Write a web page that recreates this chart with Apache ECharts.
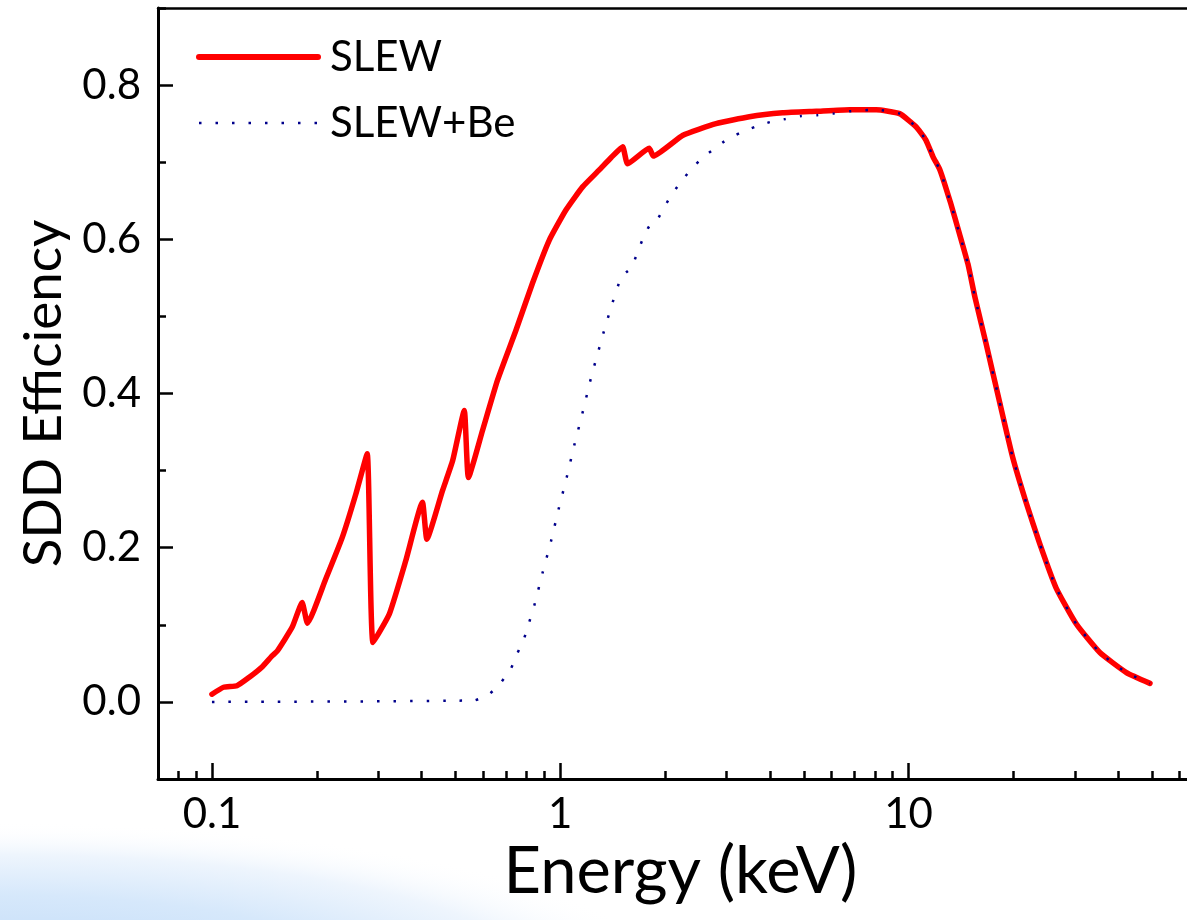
<!DOCTYPE html>
<html>
<head>
<meta charset="utf-8">
<script src="https://cdn.jsdelivr.net/npm/echarts@6/dist/echarts.min.js"></script>
<style>
  html, body { margin: 0; padding: 0; background: #fff; }
  #chart { width: 1187px; height: 920px; }
</style>
</head>
<body>
<div id="chart"></div>
<script>
// SDD efficiency vs photon energy
const slewEnergy = [0.1, 0.108, 0.118, 0.128, 0.139, 0.149, 0.154, 0.170, 0.1815, 0.188, 0.212, 0.2365, 0.259, 0.279, 0.290, 0.323, 0.360, 0.402, 0.414, 0.459, 0.491, 0.530, 0.545, 0.598, 0.660, 0.746, 0.832, 0.930, 1.038, 1.159, 1.294, 1.40, 1.51, 1.56, 1.80, 1.85, 2.25, 2.80, 3.49, 4.35, 5.43, 6.77, 8.07, 9.42, 10.5, 11.2, 11.75, 12.3, 13.2, 14.0, 14.8, 15.5, 16.7, 18.2, 19.9, 21.8, 23.8, 26.5, 30.3, 35.4, 42.2, 49.3];
const slewEff = [0.010, 0.019, 0.021, 0.032, 0.045, 0.060, 0.066, 0.097, 0.129, 0.102, 0.159, 0.213, 0.270, 0.322, 0.077, 0.114, 0.183, 0.259, 0.211, 0.274, 0.313, 0.378, 0.291, 0.352, 0.417, 0.482, 0.543, 0.599, 0.638, 0.668, 0.690, 0.706, 0.720, 0.698, 0.718, 0.708, 0.735, 0.750, 0.759, 0.764, 0.766, 0.768, 0.768, 0.763, 0.746, 0.729, 0.707, 0.690, 0.647, 0.607, 0.568, 0.525, 0.464, 0.391, 0.317, 0.257, 0.205, 0.148, 0.101, 0.064, 0.038, 0.024];

const beEnergy = [0.1, 0.566, 0.625, 0.675, 0.721, 0.753, 0.788, 0.815, 0.842, 0.889, 0.940, 0.989, 1.043, 1.097, 1.157, 1.217, 1.252, 1.329, 1.413, 1.493, 1.545, 1.60, 1.72, 1.80, 1.88, 1.99, 2.09, 2.24, 2.40, 2.56, 2.80, 3.00, 3.28, 3.63, 4.00, 4.43, 4.92, 5.46, 6.06, 6.77, 8.07, 9.42, 10.5, 11.2, 11.75, 12.3, 13.2, 14.0, 14.8, 15.5, 16.7, 18.2, 19.9, 21.8, 23.8, 26.5, 30.3, 35.4, 42.2, 49.3];
const beEff = [0, 0.002, 0.010, 0.025, 0.043, 0.063, 0.083, 0.104, 0.125, 0.167, 0.208, 0.250, 0.291, 0.333, 0.374, 0.415, 0.436, 0.478, 0.518, 0.550, 0.557, 0.563, 0.599, 0.617, 0.622, 0.642, 0.658, 0.677, 0.693, 0.706, 0.719, 0.729, 0.738, 0.746, 0.752, 0.756, 0.760, 0.761, 0.763, 0.766, 0.768, 0.763, 0.746, 0.729, 0.707, 0.690, 0.647, 0.607, 0.568, 0.525, 0.464, 0.391, 0.317, 0.257, 0.205, 0.148, 0.101, 0.064, 0.038, 0.024];

// axis ticks
const xMin = 0.07, xMax = 70;
const xMinorTicks = [0.08, 0.09, 0.2, 0.3, 0.4, 0.5, 0.6, 0.7, 0.8, 0.9, 2, 3, 4, 5, 6, 7, 8, 9, 20, 30, 40, 50, 60];
const yMajorTicks = [0, 0.2, 0.4, 0.6, 0.8];

const font = 'Lato, "Open Sans", sans-serif';
const black = '#000';

const chart = echarts.init(document.getElementById('chart'));
chart.setOption({
  backgroundColor: '#fff',
  animation: false,
  graphic: [{
    // pale blue slide background in the lower left corner
    type: 'circle',
    x: 0, y: 985, scaleY: 0.24,
    shape: { cx: 0, cy: 0, r: 680 },
    style: {
      fill: {
        type: 'radial', x: 0.5, y: 0.5, r: 0.5,
        colorStops: [
          { offset: 0, color: '#bcd8f7' },
          { offset: 0.55, color: '#d6e8fb' },
          { offset: 0.8, color: '#eef5fd' },
          { offset: 1, color: 'rgba(255,255,255,0)' }
        ]
      }
    },
    silent: true,
    z: -10
  }],
  grid: {
    left: 158, top: 8, width: 1045, bottom: 141,
    outerBoundsMode: 'none',
    show: false
  },
  legend: {
    orient: 'vertical',
    left: 191, top: 27,
    itemWidth: 119, itemHeight: 14, itemGap: 16,
    itemStyle: { opacity: 0 },
    textStyle: { fontFamily: font, fontSize: 42, color: black, lineHeight: 50, padding: [0, 0, 0, 7] },
    data: [
      { name: 'SLEW', lineStyle: { width: 6 } },
      { name: 'SLEW+Be', lineStyle: { width: 2.5 } }
    ]
  },
  xAxis: [{
    type: 'log', logBase: 10, min: xMin, max: xMax,
    name: 'Energy (keV)', nameLocation: 'middle', nameGap: 45,
    nameTextStyle: { fontFamily: font, fontSize: 65, color: black },
    axisLine: { onZero: false, lineStyle: { color: black, width: 3 } },
    axisTick: { inside: true, length: 16, lineStyle: { color: black, width: 2.5 } },
    axisLabel: { fontFamily: font, fontSize: 42, color: black, margin: 14, showMinLabel: false, showMaxLabel: false },
    splitLine: { show: false }
  }, {
    // minor ticks, placed in log10 space
    type: 'value', position: 'bottom',
    min: Math.log10(xMin), max: Math.log10(xMax),
    axisLine: { show: false, onZero: false },
    axisTick: { inside: true, length: 8, customValues: xMinorTicks.map(Math.log10), lineStyle: { color: black, width: 2.5 } },
    axisLabel: { show: false },
    splitLine: { show: false }
  }, {
    // top frame line
    type: 'value', position: 'top',
    min: 0, max: 1,
    axisLine: { show: true, onZero: false, lineStyle: { color: black, width: 2.5 } },
    axisTick: { show: false },
    axisLabel: { show: false },
    splitLine: { show: false }
  }],
  yAxis: [{
    type: 'value', min: -0.1, max: 0.9, interval: 0.1,
    name: 'SDD Efficiency', nameLocation: 'middle', nameGap: 88, nameRotate: 90,
    nameTextStyle: { fontFamily: font, fontSize: 53, color: black },
    axisLine: { onZero: false, lineStyle: { color: black, width: 3 } },
    axisTick: { inside: true, length: 8, lineStyle: { color: black, width: 2.5 } },
    axisLabel: {
      fontFamily: font, fontSize: 42, color: black, margin: 17,
      customValues: yMajorTicks,
      formatter: v => v.toFixed(1)
    },
    splitLine: { show: false }
  }, {
    type: 'value', position: 'left', min: -0.1, max: 0.9,
    axisLine: { show: false, onZero: false },
    axisTick: { inside: true, length: 15, customValues: yMajorTicks, lineStyle: { color: black, width: 2.5 } },
    axisLabel: { show: false },
    splitLine: { show: false }
  }],
  series: [{
    name: 'SLEW',
    type: 'line',
    symbol: 'none',
    smooth: 0.15,
    data: slewEnergy.map((e, i) => [e, slewEff[i]]),
    lineStyle: { color: '#ff0000', width: 5.5, join: 'round', cap: 'round' },
    itemStyle: { color: '#ff0000' }
  }, {
    name: 'SLEW+Be',
    type: 'line',
    symbol: 'none',
    smooth: 0.15,
    data: beEnergy.map((e, i) => [e, beEff[i]]),
    lineStyle: { color: '#00008b', width: 2.5, type: [2.5, 14] },
    itemStyle: { color: '#00008b' }
  }]
});
</script>
</body>
</html>
